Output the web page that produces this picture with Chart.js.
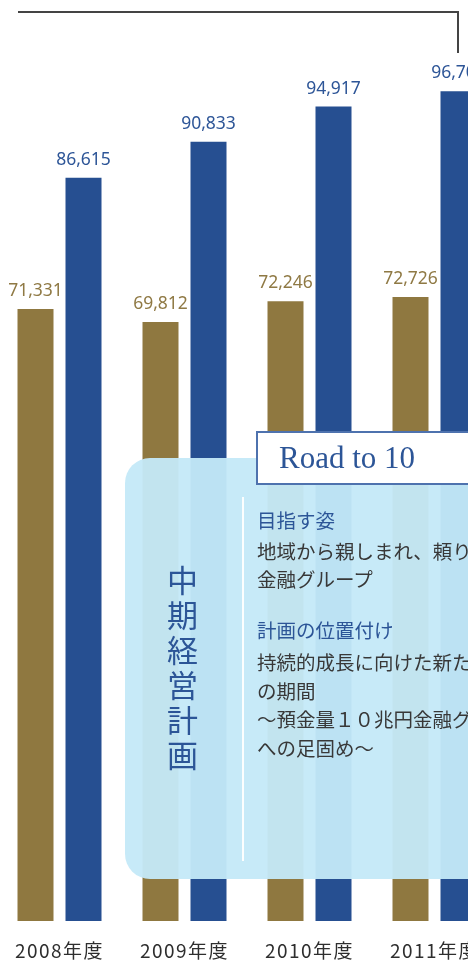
<!DOCTYPE html>
<html lang="ja">
<head>
<meta charset="UTF-8">
<title>中期経営計画 Road to 10</title>
<script src="https://cdn.jsdelivr.net/npm/chart.js@4.4.1/dist/chart.umd.min.js"></script>
<style>
  html, body { margin: 0; padding: 0; width: 468px; height: 961px; overflow: hidden; background: #fff; }
  .chart-wrap { position: absolute; left: -3px; top: 0; width: 500px; height: 961px; }

  /* colchete no topo */
  .bracket { position: absolute; left: 18px; top: 11px; width: 441px; height: 42px;
             border-top: 2px solid #444; border-right: 2px solid #444; box-sizing: border-box; }

  /* painel azul claro por cima das barras */
  .plan-panel { position: absolute; left: 125px; top: 458px; width: 420px; height: 421px;
                border-radius: 25px; background: rgba(196, 233, 248, 0.954); }
  .plan-divider { position: absolute; left: 242px; top: 497px; width: 2px; height: 364px; background: rgba(255,255,255,0.95); }
  .plan-title { position: absolute; left: 167px; top: 565px; width: 31px;
                writing-mode: vertical-rl; text-orientation: upright; letter-spacing: 4px;
                font: 31px "Noto Sans CJK JP", sans-serif; color: #2c5597; line-height: 31px; }

  .road-box { position: absolute; left: 256px; top: 431px; width: 260px; height: 54px; box-sizing: border-box;
              background: #fff; border: 2px solid #4e72ae; }
  .road-text { position: absolute; left: 279px; top: 440px; font: 31px "Liberation Serif", "Times New Roman", serif;
               color: #2c5597; line-height: 36px; white-space: nowrap; }

  .plan-text { position: absolute; left: 257px; font-family: "Noto Sans CJK JP", sans-serif; font-size: 19.5px;
               white-space: nowrap; line-height: 28px; }
  .plan-text.head { color: #2c5597; }
  .plan-text.body { color: #383838; }
</style>
</head>
<body>
<div class="chart-wrap"><canvas id="depositChart"></canvas></div>
<div class="bracket"></div>

<div class="plan-panel"></div>
<div class="plan-divider"></div>
<div class="plan-title">中期経営計画</div>
<div class="road-box"></div>
<div class="road-text">Road to 10</div>

<div class="plan-text head" style="top:506px">目指す姿</div>
<div class="plan-text body" style="top:537px">地域から親しまれ、頼りにされる<br>金融グループ</div>
<div class="plan-text head" style="top:616px">計画の位置付け</div>
<div class="plan-text body" style="top:648px;line-height:28.5px">持続的成長に向けた新たな挑戦<br>の期間<br>～預金量１０兆円金融グループ<br>への足固め～</div>

<script>
// --- Dados ---
const anos = ['2008年度', '2009年度', '2010年度', '2011年度'];
const serieDourada = [71331, 69812, 72246, 72726];
const serieAzul = [86615, 90833, 94917, 96704];

const corDourada = '#8f7840';
const corAzul = '#264f91';

function initGrafico() {
    const ctx = document.getElementById('depositChart');
    if (!ctx) return;

    // Rótulos com os valores em cima de cada barra
    const rotulosValores = {
        id: 'rotulosValores',
        beforeDraw(chart) {
            // espaçamento das letras dos anos no eixo x
            chart.ctx.letterSpacing = '1.5px';
        },
        afterDatasetsDraw(chart) {
            const c = chart.ctx;
            c.save();
            c.letterSpacing = '0px';
            c.font = '17.5px "Noto Sans", sans-serif';
            c.textAlign = 'center';
            c.textBaseline = 'alphabetic';
            chart.data.datasets.forEach((ds, i) => {
                const meta = chart.getDatasetMeta(i);
                c.fillStyle = ds.labelColor;
                meta.data.forEach((bar, j) => {
                    c.fillText(ds.data[j].toLocaleString('en-US'), bar.x, bar.y - 13);
                });
            });
            c.restore();
        }
    };

    new Chart(ctx, {
        type: 'bar',
        data: {
            labels: anos,
            datasets: [
                { data: serieDourada, backgroundColor: corDourada, labelColor: '#8f7944',
                  barPercentage: 0.75, categoryPercentage: 0.768 },
                { data: serieAzul, backgroundColor: corAzul, labelColor: '#2d5597',
                  barPercentage: 0.75, categoryPercentage: 0.768 }
            ]
        },
        options: {
            responsive: true,
            maintainAspectRatio: false,
            animation: false,
            layout: { padding: { top: 63, left: 0, right: 0, bottom: 0 } },
            plugins: { legend: { display: false }, tooltip: { enabled: false } },
            scales: {
                x: {
                    grid: { display: false, drawTicks: false },
                    border: { display: false },
                    ticks: {
                        color: '#2e2e2e',
                        font: { family: '"Noto Sans CJK JP", sans-serif', size: 19 },
                        padding: 18,
                        maxRotation: 0,
                        autoSkip: false
                    },
                    afterFit: (scale) => { scale.height = 40; }
                },
                y: { display: false, min: 0, max: 100000 }
            }
        },
        plugins: [rotulosValores]
    });
}

if (document.readyState === 'loading') {
    document.addEventListener('DOMContentLoaded', initGrafico);
} else {
    initGrafico();
}
</script>
</body>
</html>
